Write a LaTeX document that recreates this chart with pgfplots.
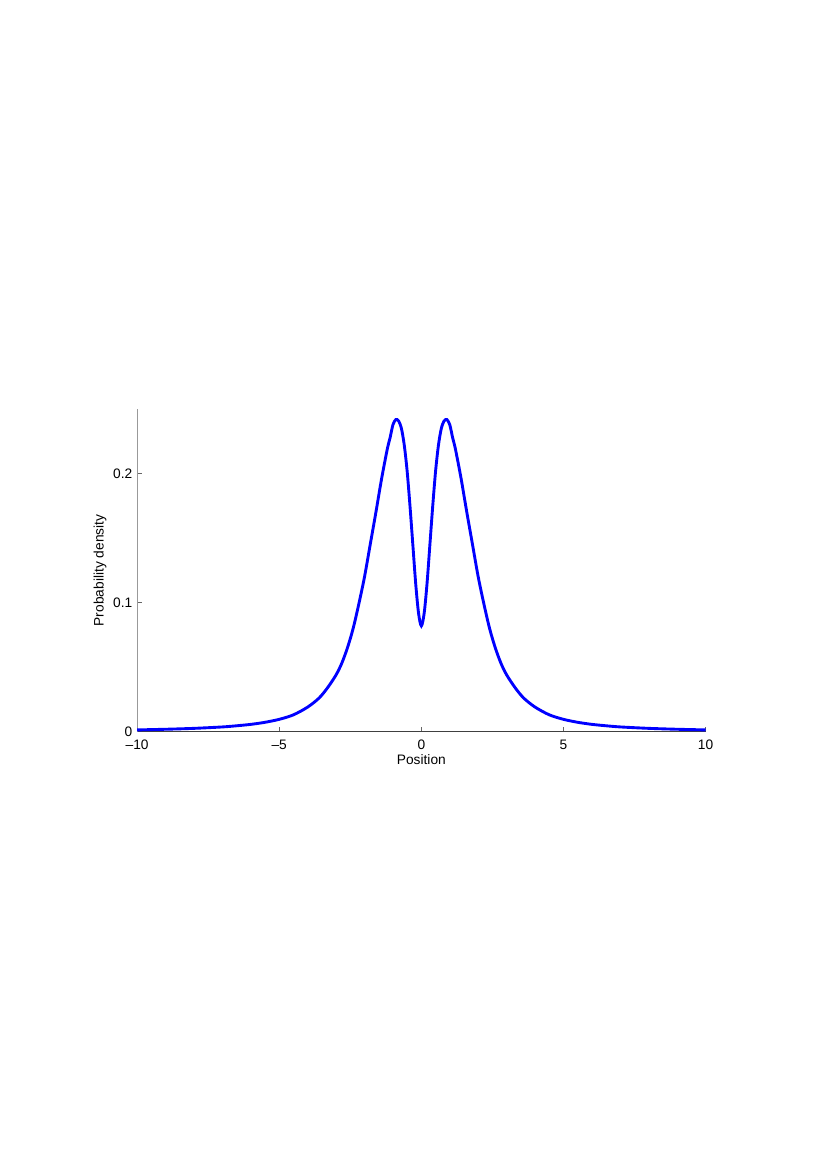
\documentclass[border=0pt]{standalone}
\usepackage{fontspec}
\setmainfont{Liberation Sans}
\usepackage{pgfplots}
\pgfplotsset{compat=1.18}

% density values (symmetric about 0)
\pgfplotstableread{
x y
-10.0 0.0013
-9.0 0.0018
-8.0 0.0025
-7.0 0.0036
-6.5 0.0045
-6.0 0.0056
-5.5 0.0072
-5.0 0.0095
-4.5 0.013
-4.0 0.019
-3.6 0.026
-3.3 0.034
-3.0 0.044
-2.8 0.053
-2.6 0.065
-2.4 0.080
-2.2 0.099
-2.0 0.120
-1.8 0.145
-1.6 0.170
-1.4 0.196
-1.2 0.219
-1.1 0.228
-1.0 0.238
-0.9 0.242
-0.8 0.241
-0.7 0.235
-0.6 0.222
-0.5 0.202
-0.4 0.175
-0.3 0.145
-0.2 0.115
-0.1 0.092
0.0 0.082
0.1 0.092
0.2 0.115
0.3 0.145
0.4 0.175
0.5 0.202
0.6 0.222
0.7 0.235
0.8 0.241
0.9 0.242
1.0 0.238
1.1 0.228
1.2 0.219
1.4 0.196
1.6 0.170
1.8 0.145
2.0 0.120
2.2 0.099
2.4 0.080
2.6 0.065
2.8 0.053
3.0 0.044
3.3 0.034
3.6 0.026
4.0 0.019
4.5 0.013
5.0 0.0095
5.5 0.0072
6.0 0.0056
6.5 0.0045
7.0 0.0036
8.0 0.0025
9.0 0.0018
10.0 0.0013
}\densitydata

\begin{document}
\begin{tikzpicture}
% page size (A4 at the reference's scale)
\path[use as bounding box] (0,0) rectangle (595.3pt,842.3pt);
\begin{axis}[
    at={(99.8pt,309.7pt)},
    anchor=south west,
    scale only axis,
    width=413.9pt,
    height=234.6pt,
    xmin=-10, xmax=10,
    ymin=0, ymax=0.25,
    axis x line=bottom,
    axis y line=left,
    axis line style={-},
    x axis line style={black!75,line width=0.6pt},
    y axis line style={black!40,line width=0.6pt},
    xtick={-10,-5,0,5,10},
    xticklabels={–10,–5,0,5,10},
    ytick={0,0.1,0.2},
    yticklabels={0,0.1,0.2},
    xticklabel style={yshift=-2.5pt},
    tick align=inside,
    major tick length=3.3pt,
    tick style={black!60,line width=0.5pt},
    font=\fontsize{10}{12}\selectfont,
    /pgf/number format/assume math mode=true,
    xlabel={Position},
    ylabel={Probability density},
    xlabel style={at={(axis description cs:0.5,-0.087)},anchor=center},
    ylabel style={at={(axis description cs:-0.065,0.5)},anchor=center},
    clip=false,
]
\addplot[color={rgb,255:red,0;green,0;blue,255},line width=2.1pt,smooth,tension=0.5] table[x=x,y=y] {\densitydata};
\end{axis}
\end{tikzpicture}
\end{document}
